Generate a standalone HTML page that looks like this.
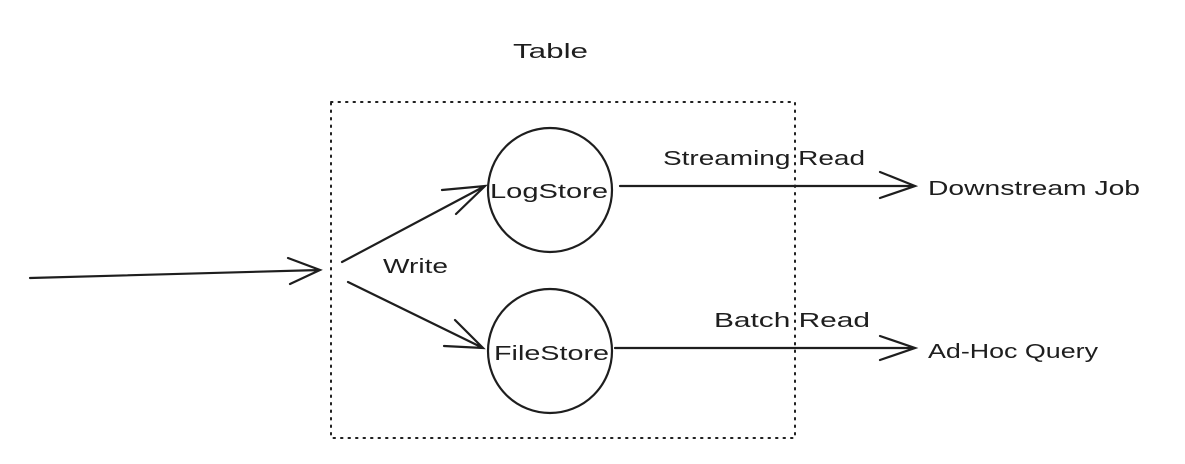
<!DOCTYPE html>
<html><head><style>body{margin:0;background:#fff}svg{display:block}text{font-family:"Liberation Sans",sans-serif;font-size:20px;fill:#1e1e1e}</style></head><body>
<svg width="1185" height="464" viewBox="0 0 1185 464">
<g fill="none" stroke="#1e1e1e" stroke-width="2.2" stroke-linecap="round">
<rect x="331" y="102" width="464" height="336" stroke-dasharray="1.5 6" stroke-width="2"/>
<circle cx="550" cy="190" r="62"/>
<circle cx="550" cy="351" r="62"/>
<path d="M30 278 L320 270 M288 258 L320 270 L290 284"/>
<path d="M342 262 L485 186 M442 190 L485 186 L456 214"/>
<path d="M348 282 L483 348 M455 320 L483 348 L444 346"/>
<path d="M620 186 L915 186 M880 172 L915 186 L880 198"/>
<path d="M615 348 L915 348 M880 336 L915 348 L880 360"/>
</g>
<text x="513" y="58" textLength="75" lengthAdjust="spacingAndGlyphs">Table</text>
<text x="490" y="198" textLength="118" lengthAdjust="spacingAndGlyphs">LogStore</text>
<text x="494" y="360" textLength="115" lengthAdjust="spacingAndGlyphs">FileStore</text>
<text x="383" y="273" textLength="65" lengthAdjust="spacingAndGlyphs">Write</text>
<text x="663" y="165" textLength="202" lengthAdjust="spacingAndGlyphs">Streaming Read</text>
<text x="714" y="327" textLength="156" lengthAdjust="spacingAndGlyphs">Batch Read</text>
<text x="928" y="195" textLength="212" lengthAdjust="spacingAndGlyphs">Downstream Job</text>
<text x="928" y="358" textLength="170" lengthAdjust="spacingAndGlyphs">Ad-Hoc Query</text>
</svg>
</body></html>
